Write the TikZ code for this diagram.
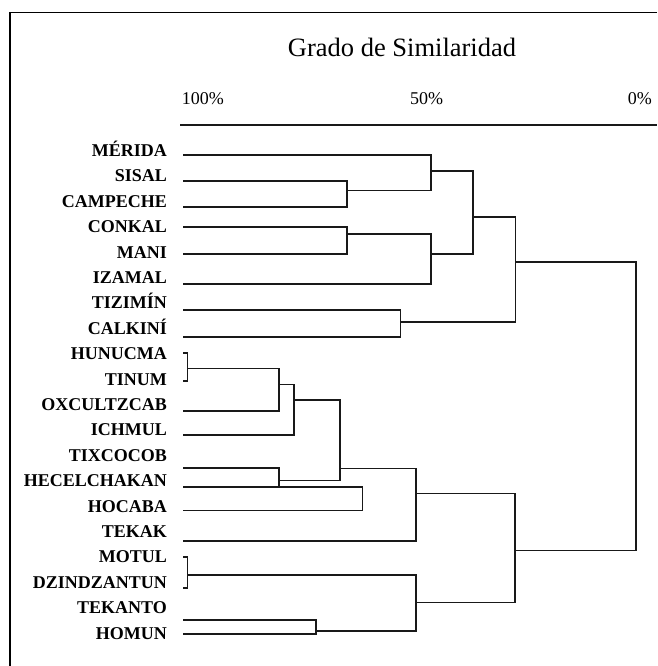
\documentclass[tikz,border=0pt]{standalone}
\usepackage{fontspec}
\setmainfont{Liberation Serif}

\begin{document}
\begin{tikzpicture}[x=1pt,y=-1pt,
  town/.style={anchor=east, inner sep=0pt, text height=11pt, text depth=0pt,
               font=\fontsize{18}{18}\selectfont\bfseries},
  pct/.style={inner sep=0pt, font=\fontsize{18}{18}\selectfont},
  link/.style={line width=1.3pt, black!90}]
\useasboundingbox (0,0) rectangle (657,666);

% frame (top and left only)
\coordinate (TL) at (10,12.5);
\coordinate (TR) at (657,12.5);
\coordinate (BL) at (10,666);
\draw[line width=1.8pt] (TR) -- (TL) -- (BL);

% header
\node[anchor=base, inner sep=0pt, font=\fontsize{26.5}{26.5}\selectfont] (title) at (402,57) {Grado de Similaridad};
\node[pct, anchor=base west] (p100) at (181.7,105) {100\%};
\node[pct, anchor=base]      (p50)  at (426.5,105) {50\%};
\node[pct, anchor=base east] (p0)   at (652,105) {0\%};
\coordinate (ax0) at (180,125);
\coordinate (ax1) at (657,125);
\draw[link] (ax0) -- (ax1);

% towns
\foreach \name [count=\i from 0] in {MÉRIDA,SISAL,CAMPECHE,CONKAL,MANI,IZAMAL,TIZIMÍN,CALKINÍ,
    HUNUCMA,TINUM,OXCULTZCAB,ICHMUL,TIXCOCOB,HECELCHAKAN,HOCABA,TEKAK,
    MOTUL,DZINDZANTUN,TEKANTO,HOMUN}
  \node[town] (t\i) at (167,{151+25.4*\i}) {\name};

% leaf ends
\foreach \y [count=\i from 0] in {155,181,207,227,254,284,310,337,
    353,381,411,435,468,487,510.5,541,557,588,620,634}
  \coordinate (s\i) at (183,\y);

% joins
\coordinate (jSC) at (347,190.7);
\coordinate (jM)  at (431,171);
\coordinate (jCM) at (347,234);
\coordinate (jI)  at (431,254);
\coordinate (jU1) at (473,217);
\coordinate (jTC) at (400.7,322);
\coordinate (jU)  at (515.5,262);
\coordinate (jHT) at (187.5,368.3);
\coordinate (jO)  at (279,384.5);
\coordinate (jIC) at (294,400);
\coordinate (jTH) at (279,480.7);
\coordinate (jHH) at (362.5,500);
\coordinate (jX)  at (340,468.3);
\coordinate (jT)  at (416,493.3);
\coordinate (jMD) at (187.5,575);
\coordinate (jTK) at (316,631);
\coordinate (jMT) at (416,602.7);
\coordinate (jL)  at (515,550.7);
\coordinate (root) at (636,400);

% upper group
\draw[link] (s1) -| (jSC) |- (s2);
\draw[link] (s0) -| (jM) |- (jSC);
\draw[link] (s3) -| (jCM) |- (s4);
\draw[link] (jCM) -| (jI) |- (s5);
\draw[link] (jM) -| (jU1) |- (jI);
\draw[link] (s6) -| (jTC) |- (s7);
\draw[link] (jU1) -| (jU) |- (jTC);

% lower group
\draw[link] (s8) -| (jHT) |- (s9);
\draw[link] (jHT) -| (jO) |- (s10);
\draw[link] (jO) -| (jIC) |- (s11);
\draw[link] (s12) -| (jTH) |- (s13);
\draw[link] (s13) -| (jHH) |- (s14);
\draw[link] (jIC) -| (jX) |- (jTH);
\draw[link] (jX) -| (jT) |- (s15);
\draw[link] (s16) -| (jMD) |- (s17);
\draw[link] (s18) -| (jTK) |- (s19);
\draw[link] (jMD) -| (jMT) |- (jTK);
\draw[link] (jT) -| (jL) |- (jMT);

% root
\draw[link] (jU) -| (root) |- (jL);
\end{tikzpicture}
\end{document}
